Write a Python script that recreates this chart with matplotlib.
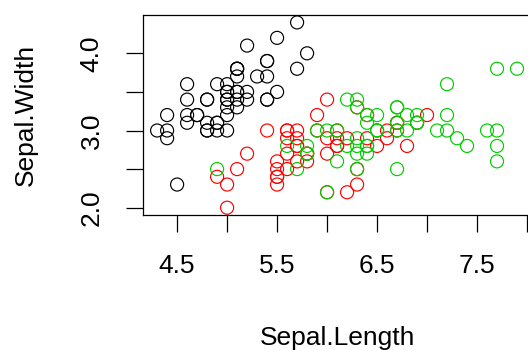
import matplotlib
matplotlib.use("Agg")
import matplotlib.pyplot as plt

# iris sepal measurements, by species
setosa_len = [5.1, 4.9, 4.7, 4.6, 5.0, 5.4, 4.6, 5.0, 4.4, 4.9, 5.4, 4.8, 4.8, 4.3, 5.8,
              5.7, 5.4, 5.1, 5.7, 5.1, 5.4, 5.1, 4.6, 5.1, 4.8, 5.0, 5.0, 5.2, 5.2, 4.7,
              4.8, 5.4, 5.2, 5.5, 4.9, 5.0, 5.5, 4.9, 4.4, 5.1, 5.0, 4.5, 4.4, 5.0, 5.1,
              4.8, 5.1, 4.6, 5.3, 5.0]
setosa_wid = [3.5, 3.0, 3.2, 3.1, 3.6, 3.9, 3.4, 3.4, 2.9, 3.1, 3.7, 3.4, 3.0, 3.0, 4.0,
              4.4, 3.9, 3.5, 3.8, 3.8, 3.4, 3.7, 3.6, 3.3, 3.4, 3.0, 3.4, 3.5, 3.4, 3.2,
              3.1, 3.4, 4.1, 4.2, 3.1, 3.2, 3.5, 3.6, 3.0, 3.4, 3.5, 2.3, 3.2, 3.5, 3.8,
              3.0, 3.8, 3.2, 3.7, 3.3]
versicolor_len = [7.0, 6.4, 6.9, 5.5, 6.5, 5.7, 6.3, 4.9, 6.6, 5.2, 5.0, 5.9, 6.0, 6.1, 5.6,
                  6.7, 5.6, 5.8, 6.2, 5.6, 5.9, 6.1, 6.3, 6.1, 6.4, 6.6, 6.8, 6.7, 6.0, 5.7,
                  5.5, 5.5, 5.8, 6.0, 5.4, 6.0, 6.7, 6.3, 5.6, 5.5, 5.5, 6.1, 5.8, 5.0, 5.6,
                  5.7, 5.7, 6.2, 5.1, 5.7]
versicolor_wid = [3.2, 3.2, 3.1, 2.3, 2.8, 2.8, 3.3, 2.4, 2.9, 2.7, 2.0, 3.0, 2.2, 2.9, 2.9,
                  3.1, 3.0, 2.7, 2.2, 2.5, 3.2, 2.8, 2.5, 2.8, 2.9, 3.0, 2.8, 3.0, 2.9, 2.6,
                  2.4, 2.4, 2.7, 2.7, 3.0, 3.4, 3.1, 2.3, 3.0, 2.5, 2.6, 3.0, 2.6, 2.3, 2.7,
                  3.0, 2.9, 2.9, 2.5, 2.8]
virginica_len = [6.3, 5.8, 7.1, 6.3, 6.5, 7.6, 4.9, 7.3, 6.7, 7.2, 6.5, 6.4, 6.8, 5.7, 5.8,
                 6.4, 6.5, 7.7, 7.7, 6.0, 6.9, 5.6, 7.7, 6.3, 6.7, 7.2, 6.2, 6.1, 6.4, 7.2,
                 7.4, 7.9, 6.4, 6.3, 6.1, 7.7, 6.3, 6.4, 6.0, 6.9, 6.7, 6.9, 5.8, 6.8, 6.7,
                 6.7, 6.3, 6.5, 6.2, 5.9]
virginica_wid = [3.3, 2.7, 3.0, 2.9, 3.0, 3.0, 2.5, 2.9, 2.5, 3.6, 3.2, 2.7, 3.0, 2.5, 2.8,
                 3.2, 3.0, 3.8, 2.6, 2.2, 3.2, 2.8, 2.8, 2.7, 3.3, 3.2, 2.8, 3.0, 2.8, 3.0,
                 2.8, 3.8, 2.8, 2.8, 2.6, 3.0, 3.4, 3.1, 3.0, 3.1, 3.1, 3.1, 2.7, 3.2, 3.3,
                 3.0, 2.5, 3.0, 3.4, 3.0]

x_ticks = [4.5, 5.0, 5.5, 6.0, 6.5, 7.0, 7.5, 8.0]
x_labels = ["4.5", "", "5.5", "", "6.5", "", "7.5", ""]
y_ticks = [2.0, 2.5, 3.0, 3.5, 4.0]
y_labels = ["2.0", "", "3.0", "", "4.0"]

plt.rcParams["font.family"] = ["Liberation Sans", "DejaVu Sans"]

fig = plt.figure(figsize=(5.28, 3.5), dpi=100)
fig.patch.set_facecolor("white")
# R-style plot region; right edge runs just past the image
ax = fig.add_axes([0.2703, 0.3854, 0.7362, 0.5717])

groups = [
    (setosa_len, setosa_wid, "black"),
    (versicolor_len, versicolor_wid, "#FF0000"),
    (virginica_len, virginica_wid, "#00CD00"),
]
for xs, ys, col in groups:
    ax.scatter(xs, ys, s=88, facecolors="none", edgecolors=col, linewidths=0.85)

# R's 4% axis extension
all_len = setosa_len + versicolor_len + virginica_len
all_wid = setosa_wid + versicolor_wid + virginica_wid
xlo, xhi = min(all_len), max(all_len)
ylo, yhi = min(all_wid), max(all_wid)
ax.set_xlim(xlo - 0.04 * (xhi - xlo), xhi + 0.04 * (xhi - xlo))
ax.set_ylim(ylo - 0.04 * (yhi - ylo), yhi + 0.04 * (yhi - ylo))

ax.set_xticks(x_ticks)
ax.set_xticklabels(x_labels)
ax.set_yticks(y_ticks)
ax.set_yticklabels(y_labels, rotation=90, va="center")
ax.tick_params(direction="out", length=12.5, width=0.9, labelsize=19, pad=15.5, colors="black")

for sp in ax.spines.values():
    sp.set_linewidth(0.9)

ax.set_xlabel("Sepal.Length", fontsize=19, va="center")
ax.xaxis.set_label_coords(0.5, -0.615)
ax.set_ylabel("Sepal.Width", fontsize=19, va="center")
ax.yaxis.set_label_coords(-0.30, 0.5)

fig.savefig("out.png", dpi=100)
